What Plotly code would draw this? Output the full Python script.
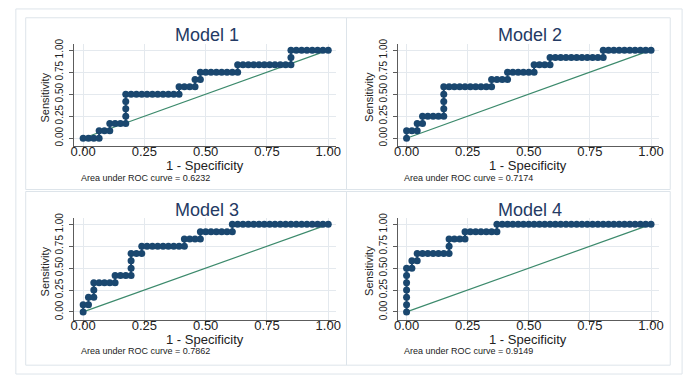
import plotly.graph_objects as go

# ---------------- data ----------------
MODELS = ["Model 1", "Model 2", "Model 3", "Model 4"]
AUC = ["0.6232", "0.7174", "0.7862", "0.9149"]
N_NEG = 46   # negatives (1 - specificity denominator)
N_POS = 12   # positives (sensitivity denominator)

# cumulative false-positive counts / true-positive counts along each ROC curve
FP1 = [0, 1, 2, 3, 3, 4, 5, 5, 6, 7, 8, 8, 8, 8, 8, 9, 10, 11, 12, 13, 14, 15, 16, 17, 18,
       18, 19, 20, 21, 21, 22, 22, 23, 24, 25, 26, 27, 28, 29, 29, 30, 31, 32, 33, 34, 35,
       36, 37, 38, 39, 39, 39, 40, 41, 42, 43, 44, 45, 46]
TP1 = [0, 0, 0, 0, 1, 1, 1, 2, 2, 2, 2, 3, 4, 5, 6, 6, 6, 6, 6, 6, 6, 6, 6, 6, 6,
       7, 7, 7, 7, 8, 8, 9, 9, 9, 9, 9, 9, 9, 9, 10, 10, 10, 10, 10, 10, 10,
       10, 10, 10, 10, 11, 12, 12, 12, 12, 12, 12, 12, 12]

FP2 = [0, 0, 1, 2, 2, 3, 3, 4, 5, 6, 7, 7, 7, 7, 7, 8, 9, 10, 11, 12, 13, 14, 15, 16,
       16, 17, 18, 19, 19, 20, 21, 22, 23, 24, 24, 25, 26, 27, 27, 28, 29, 30, 31, 32,
       33, 34, 35, 36, 37, 37, 38, 39, 40, 41, 42, 43, 44, 45, 46]
TP2 = [0, 1, 1, 1, 2, 2, 3, 3, 3, 3, 3, 4, 5, 6, 7, 7, 7, 7, 7, 7, 7, 7, 7, 7,
       8, 8, 8, 8, 9, 9, 9, 9, 9, 9, 10, 10, 10, 10, 11, 11, 11, 11, 11, 11, 11,
       11, 11, 11, 11, 12, 12, 12, 12, 12, 12, 12, 12, 12, 12]

FP3 = [0, 0, 1, 1, 2, 2, 2, 3, 4, 5, 6, 6, 7, 8, 9, 9, 9, 9, 10, 11, 11, 12, 13, 14,
       15, 16, 17, 18, 19, 19, 20, 21, 22, 22, 23, 24, 25, 26, 27, 28, 28, 29, 30, 31,
       32, 33, 34, 35, 36, 37, 38, 39, 40, 41, 42, 43, 44, 45, 46]
TP3 = [0, 1, 1, 2, 2, 3, 4, 4, 4, 4, 4, 5, 5, 5, 5, 6, 7, 8, 8, 8, 9, 9, 9, 9,
       9, 9, 9, 9, 9, 10, 10, 10, 10, 11, 11, 11, 11, 11, 11, 11, 12, 12, 12, 12,
       12, 12, 12, 12, 12, 12, 12, 12, 12, 12, 12, 12, 12, 12, 12]

FP4 = [0, 0, 0, 0, 0, 0, 0, 1, 1, 2, 2, 3, 4, 5, 6, 7, 8, 8, 8, 9, 10, 11, 11, 12,
       13, 14, 15, 16, 17, 17, 18, 19, 20, 21, 22, 23, 24, 25, 26, 27, 28, 29, 30, 31,
       32, 33, 34, 35, 36, 37, 38, 39, 40, 41, 42, 43, 44, 45, 46]
TP4 = [0, 1, 2, 3, 4, 5, 6, 6, 7, 7, 8, 8, 8, 8, 8, 8, 8, 9, 10, 10, 10, 10, 11, 11,
       11, 11, 11, 11, 11, 12, 12, 12, 12, 12, 12, 12, 12, 12, 12, 12, 12, 12, 12, 12,
       12, 12, 12, 12, 12, 12, 12, 12, 12, 12, 12, 12, 12, 12, 12]

FPS = [FP1, FP2, FP3, FP4]
TPS = [TP1, TP2, TP3, TP4]
DIAG = [0, 1]
TICKS = [0, 0.25, 0.5, 0.75, 1]

# ---------------- layout helpers ----------------
W, H = 694, 376
FONT = "Liberation Sans, Arial, sans-serif"
NAVY = "#1a476f"
GREEN = "#3c8a6c"
GRID = "#e4e9ee"
AXIS = "#5c5c5c"
FRAME = "#dde4ea"
TITLE_C = "#243a64"


def px(x):
    return x / W


def py(y):
    return 1 - y / H


# plot-area pixel boxes: (left, right, top, bottom)
BOXES = [(71, 336.7, 39, 142.5), (398.7, 663.7, 39, 142.5),
         (71, 336.7, 216.5, 319.5), (398.7, 663.7, 216.5, 319.5)]
XR = [-0.037, 1.033]
YR = [-0.087, 1.067]

fig = go.Figure()
annotations = []
shapes = []

for i in range(4):
    sfx = "" if i == 0 else str(i + 1)
    l, r, t, b = BOXES[i]
    xa = "x" + sfx
    ya = "y" + sfx
    xs = [f / N_NEG for f in FPS[i]]
    ys = [t_ / N_POS for t_ in TPS[i]]
    fig.add_trace(go.Scatter(x=DIAG, y=DIAG, mode="lines", xaxis=xa, yaxis=ya,
                             line=dict(color=GREEN, width=1.2), showlegend=False,
                             hoverinfo="skip"))
    fig.add_trace(go.Scatter(x=xs, y=ys, mode="lines+markers", xaxis=xa, yaxis=ya,
                             line=dict(color=NAVY, width=2),
                             marker=dict(color=NAVY, size=7, line=dict(width=0)),
                             showlegend=False))
    fig.layout["xaxis" + sfx] = dict(
        domain=[px(l), px(r)], range=XR, anchor=ya, tickvals=TICKS, tickformat=".2f",
        showline=True, linecolor=AXIS, linewidth=1, ticks="outside", ticklen=4,
        tickcolor=AXIS, showgrid=True, gridcolor=GRID, gridwidth=1, zeroline=False,
        tickfont=dict(family=FONT, size=13, color="#222"), ticklabelstandoff=-10,
        fixedrange=True)
    fig.layout["yaxis" + sfx] = dict(
        domain=[py(b), py(t)], range=YR, anchor=xa, tickvals=TICKS, tickformat=".2f",
        showline=True, linecolor=AXIS, linewidth=1, ticks="outside", ticklen=4,
        tickcolor=AXIS, showgrid=True, gridcolor=GRID, gridwidth=1, zeroline=False,
        tickangle=-90, tickfont=dict(family=FONT, size=10, color="#222"),
        ticklabelstandoff=2, fixedrange=True)

    cx = (l + r) / 2
    # panel title
    annotations.append(dict(text=MODELS[i], x=px(cx + 2), y=py(t - 9), xref="paper",
                            yref="paper", showarrow=False, xanchor="center",
                            yanchor="middle",
                            font=dict(family=FONT, size=18, color=TITLE_C)))
    # x-axis title
    annotations.append(dict(text="1 - Specificity", x=px(cx), y=py(b + 20.5),
                            xref="paper", yref="paper", showarrow=False,
                            xanchor="center", yanchor="middle",
                            font=dict(family=FONT, size=13, color="#222")))
    # y-axis title
    annotations.append(dict(text="Sensitivity", x=px(l - 29), y=py((t + b) / 2 + 2),
                            xref="paper", yref="paper", showarrow=False,
                            xanchor="center", yanchor="middle", textangle=-90,
                            font=dict(family=FONT, size=11, color="#222")))
    # AUC note
    annotations.append(dict(text="Area under ROC curve = " + AUC[i], x=px(l + 5),
                            y=py(b + 32.5), xref="paper", yref="paper",
                            showarrow=False, xanchor="left", yanchor="middle",
                            font=dict(family=FONT, size=9, color="#222")))

# frames: outer frame and the four graph regions
frame_boxes = [(12, 687, 3, 375), (22, 347, 12, 187), (347, 675, 12, 187),
               (22, 347, 189, 366), (347, 675, 189, 366)]
for (x0, x1, y0, y1) in frame_boxes:
    shapes.append(dict(type="rect", xref="paper", yref="paper", x0=px(x0), x1=px(x1),
                       y0=py(y1), y1=py(y0), line=dict(color=FRAME, width=1),
                       fillcolor="rgba(0,0,0,0)", layer="below"))

fig.update_layout(width=W, height=H, margin=dict(l=0, r=0, t=0, b=0),
                  paper_bgcolor="white", plot_bgcolor="white",
                  annotations=annotations, shapes=shapes,
                  font=dict(family=FONT))

fig.write_html("out.html")
